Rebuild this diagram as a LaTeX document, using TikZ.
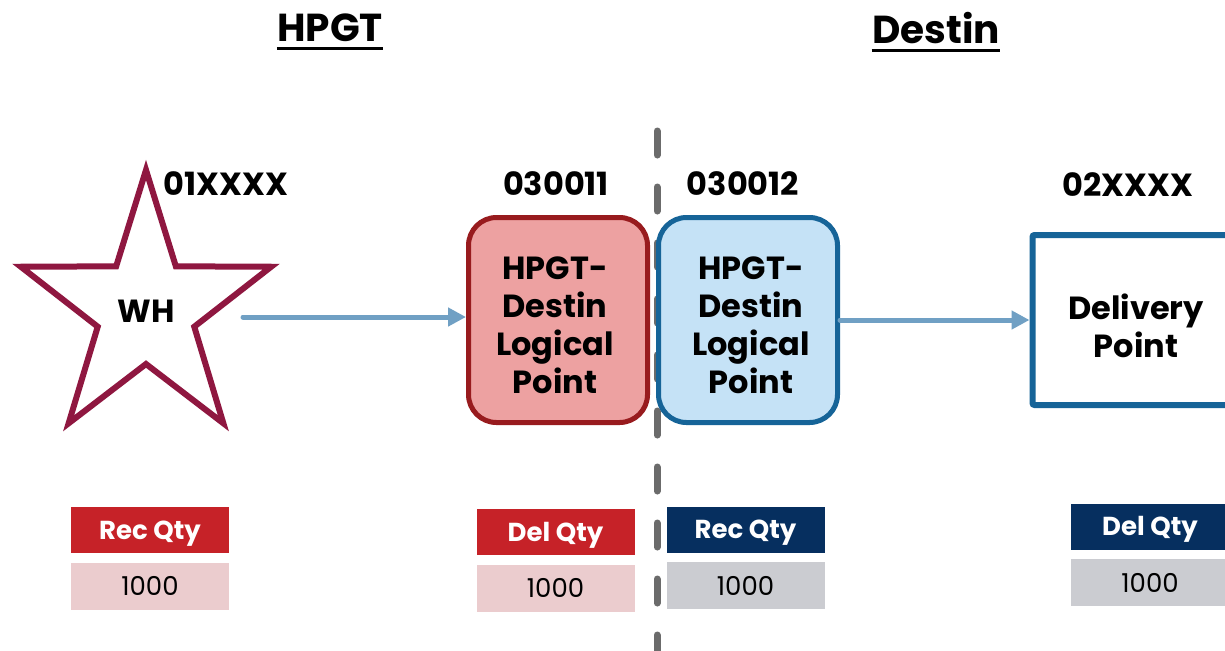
\documentclass[tikz,border=0pt]{standalone}
\usepackage{fontspec}
\setmainfont{Poppins}
\usepackage{xcolor}
\usepackage{tikz}
\usetikzlibrary{shapes,shapes.geometric}
\usetikzlibrary{calc,arrows.meta,positioning}
\definecolor{starred}{RGB}{143,23,64}
\definecolor{flowblue}{RGB}{112,160,196}
\definecolor{lpred}{RGB}{152,27,30}
\definecolor{lpredfill}{RGB}{237,161,161}
\definecolor{lpblue}{RGB}{22,100,152}
\definecolor{lpbluefill}{RGB}{197,226,246}
\definecolor{hdrred}{RGB}{198,34,40}
\definecolor{valred}{RGB}{235,204,206}
\definecolor{hdrnavy}{RGB}{6,47,95}
\definecolor{valgray}{RGB}{203,204,209}
\definecolor{divgray}{RGB}{107,107,107}
\tikzset{
  title/.style={inner sep=0pt, font=\fontsize{19.5}{23}\selectfont\bfseries},
  uline/.style={line width=1.5pt, black},
  code/.style={inner sep=0pt, font=\fontsize{16}{19}\selectfont\bfseries},
  starline/.style={draw=starred, line width=3pt, line join=miter},
  boxtext/.style={align=center, inner sep=0pt, font=\fontsize{16}{19}\selectfont\bfseries},
  lpoint/.style={rectangle, rounded corners=14pt, line width=2.5pt, minimum width=89.5pt, minimum height=102.5pt},
  lp_r/.style={lpoint, draw=lpred, fill=lpredfill},
  lp_b/.style={lpoint, draw=lpblue, fill=lpbluefill},
  dpoint/.style={rectangle, rounded corners=1pt, draw=lpblue, line width=3pt, minimum width=103.5pt, minimum height=85pt},
  flow/.style={draw=flowblue, line width=2.5pt, line cap=round, -{Triangle[length=9pt,width=9pt]}},
  divider/.style={draw=divgray, line width=3.5pt, line cap=round, dash pattern=on 12pt off 16pt},
  qtyhdr/.style={rectangle, minimum width=79pt, minimum height=23pt, inner sep=0pt, text height=10pt, text depth=1pt, text=white, font=\fontsize{13}{15}\selectfont\bfseries},
  qtyval/.style={rectangle, minimum width=79pt, minimum height=23.5pt, inner sep=0pt, font=\fontsize{13}{15}\selectfont},
  hdr_r/.style={qtyhdr, fill=hdrred},
  hdr_b/.style={qtyhdr, fill=hdrnavy},
  val_r/.style={qtyval, fill=valred},
  val_b/.style={qtyval, fill=valgray}
}
\begin{document}
\begin{tikzpicture}[x=0.5pt,y=-0.5pt]
	\useasboundingbox[fill=white] (0,0) rectangle (1225,650);
	% titles
	\node[title] (hpgt) at (330,28) {HPGT};
	\node[title] (destin) at (936,28) {Destin};
	\draw[uline] ([yshift=-3.5pt]hpgt.base west) -- ([yshift=-3.5pt]hpgt.base east);
	\draw[uline] ([yshift=-3.5pt]destin.base west) -- ([yshift=-3.5pt]destin.base east);
	% divider
	\coordinate (divtop) at (657,131);
	\coordinate (divbot) at (657,652);
	\draw[divider] (divtop) -- (divbot);
	% warehouse
	\draw[starline, shift={(146,310)}, xscale=0.94]
		(-90:140) -- (-54:54) -- (-18:140) -- (18:54) -- (54:140) -- (90:54)
		-- (126:140) -- (162:54) -- (198:140) -- (234:54) -- cycle;
	\node[code] (wh) at (146,311) {WH};
	\node[code] (whcode) at (226,184) {01XXXX};
	% logical points
	\node[lp_r, label={[boxtext, xshift=-1.5pt, yshift=-2.75pt]center:{HPGT-\\Destin\\Logical\\Point}}] (lp1) at (558,320) {};
	\node[lp_b, label={[boxtext, xshift=1.5pt, yshift=-2.75pt]center:{HPGT-\\Destin\\Logical\\Point}}] (lp2) at (748,320) {};
	\node[code] (lp1code) at (556,184) {030011};
	\node[code] (lp2code) at (743,184) {030012};
	% delivery point
	\node[dpoint, label={[boxtext, yshift=-3pt]center:{Delivery\\Point}}] (dp) at (1136,320) {};
	\node[code] (dpcode) at (1128,185) {02XXXX};
	% flows
	\coordinate (whout) at (243,317);
	\draw[flow] (whout) -- (whout -| lp1.west);
	\draw[flow] (lp2.east) -- (dp.west);
	% quantities
	\node[hdr_r] (whrec) at (150,530) {Rec Qty};
	\node[val_r, below=4.5pt of whrec] (whrecv) {1000};
	\node[hdr_r] (lp1del) at (555.5,532) {Del Qty};
	\node[val_r, below=4.5pt of lp1del] (lp1delv) {1000};
	\node[hdr_b] (lp2rec) at (745.5,529.5) {Rec Qty};
	\node[val_b, below=4.5pt of lp2rec] (lp2recv) {1000};
	\node[hdr_b] (dpdel) at (1150,526.5) {Del Qty};
	\node[val_b, below=4.5pt of dpdel] (dpdelv) {1000};
\end{tikzpicture}
\end{document}
